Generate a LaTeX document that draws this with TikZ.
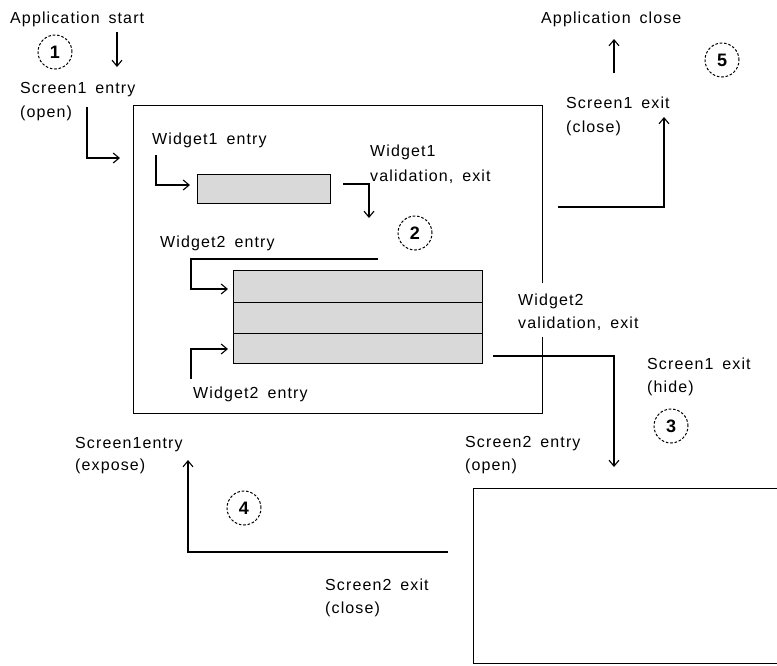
\documentclass[tikz,border=0pt]{standalone}
\usepackage{fontspec}
\setmainfont{Liberation Sans}[LetterSpace=7, WordSpace=1.6]
\usetikzlibrary{arrows.meta}
\definecolor{boxgray}{RGB}{217,217,217}
\begin{document}
\begin{tikzpicture}[x=1pt,y=-1pt,
  lbl/.style={anchor=base west, inner sep=0pt, font=\fontsize{16}{19}\selectfont},
  conn/.style={draw, line width=1.1pt, -{Straight Barb[length=6pt,width=10pt,line width=1.1pt]}},
  num/.style={circle, draw, dash pattern=on 2.6pt off 1.8pt, line width=1pt, minimum size=34pt, inner sep=0pt, font=\fontsize{18}{21}\selectfont\bfseries},
  screenbox/.style={draw, line width=1.4pt, anchor=north west, inner sep=0pt},
  wbox/.style={draw, line width=1.1pt, fill=boxgray, anchor=north west, inner sep=0pt}]

\useasboundingbox (0,0) rectangle (777,665);
\clip (0,0) rectangle (777,665);

% screens
\node[screenbox, minimum width=409pt, minimum height=308pt] (screen1) at (133,105) {};
\node[screenbox, minimum width=320pt, minimum height=175pt] (screen2) at (473,488) {};
\fill[white] (535,283) rectangle (549,337);

% widgets
\node[wbox, minimum width=133pt, minimum height=29pt] (w1) at (197,174) {};
\node[wbox, minimum width=249pt, minimum height=32pt] (w2a) at (233,270) {};
\node[wbox, minimum width=249pt, minimum height=31pt] (w2b) at (233,302) {};
\node[wbox, minimum width=249pt, minimum height=30pt] (w2c) at (233,333) {};

% labels
\node[lbl] (tAppStart) at (10,23) {Application start};
\node[lbl] (tS1entry) at (20,93) {Screen1 entry};
\node[lbl] (tS1open) at (20,117) {(open)};
\node[lbl] (tW1entry) at (152,144) {Widget1 entry};
\node[lbl] (tW1) at (370,156) {Widget1};
\node[lbl] (tW1val) at (370,181) {validation, exit};
\node[lbl] (tW2entryA) at (160,247) {Widget2 entry};
\node[lbl] (tW2entryB) at (193,398) {Widget2 entry};
\node[lbl] (tW2) at (518,305) {Widget2};
\node[lbl] (tW2val) at (518,328) {validation, exit};
\node[lbl] (tS1exitH) at (647,369) {Screen1 exit};
\node[lbl] (tS1hide) at (647,392) {(hide)};
\node[lbl] (tS2entry) at (465,447) {Screen2 entry};
\node[lbl] (tS2open) at (465,470) {(open)};
\node[lbl] (tAppClose) at (541,23) {Application close};
\node[lbl] (tS1exitC) at (566,108) {Screen1 exit};
\node[lbl] (tS1close) at (566,132) {(close)};
\node[lbl] (tS1expose) at (75,448) {Screen1entry};
\node[lbl] (tS1exp) at (75,470) {(expose)};
\node[lbl] (tS2exit) at (325,590) {Screen2 exit};
\node[lbl] (tS2close) at (325,613) {(close)};

% numbers
\node[num] (n1) at (55,52) {1};
\node[num] (n2) at (415,233) {2};
\node[num] (n3) at (671,426) {3};
\node[num] (n4) at (244,508) {4};
\node[num] (n5) at (722,60) {5};

% connector end points
\coordinate (a1) at (117,32);  \coordinate (a2) at (117,67);
\coordinate (b1) at (87,107);  \coordinate (b2) at (120,158);
\coordinate (c1) at (156,155); \coordinate (c2) at (190,185);
\coordinate (d1) at (343,184); \coordinate (d2) at (369,218);
\coordinate (e1) at (378,259); \coordinate (e2) at (191,289); \coordinate (e3) at (228,289);
\coordinate (f1) at (191,379); \coordinate (f2) at (228,349);
\coordinate (g1) at (493,356); \coordinate (g2) at (614,467);
\coordinate (h1) at (558,207); \coordinate (h2) at (664,117);
\coordinate (i1) at (614,73);  \coordinate (i2) at (614,39);
\coordinate (j1) at (448,552); \coordinate (j2) at (188,460);

% connectors
\draw[conn] (a1) -- (a2);
\draw[conn] (b1) |- (b2);
\draw[conn] (c1) |- (c2);
\draw[conn] (d1) -| (d2);
\draw[conn] (e1) -| (e2) -- (e3);
\draw[conn] (f1) |- (f2);
\draw[conn] (g1) -| (g2);
\draw[conn] (h1) -| (h2);
\draw[conn] (i1) -- (i2);
\draw[conn] (j1) -| (j2);
\end{tikzpicture}
\end{document}
